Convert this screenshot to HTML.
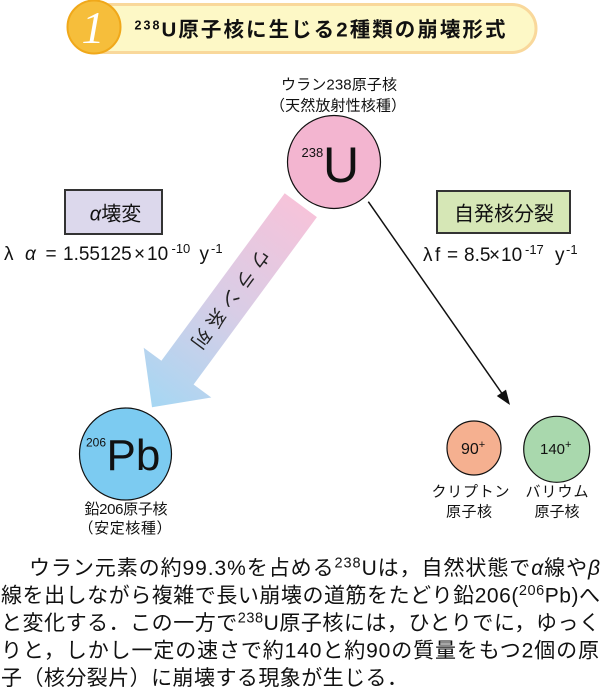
<!DOCTYPE html>
<html lang="ja">
<head>
<meta charset="utf-8">
<style>
  html, body { margin: 0; padding: 0; background: #fff; }
  svg { display: block; }
  text { font-family: "Liberation Sans", "Noto Sans CJK JP", sans-serif; fill: #111; }
</style>
</head>
<body>
<svg width="601" height="691" viewBox="0 0 601 691" xmlns="http://www.w3.org/2000/svg">
  <defs>
    <linearGradient id="ag" gradientUnits="userSpaceOnUse" x1="300.8" y1="205.2" x2="152" y2="407.2">
      <stop offset="0" stop-color="#f6c3da"/>
      <stop offset="0.5" stop-color="#d8cde6"/>
      <stop offset="1" stop-color="#a6d7f3"/>
    </linearGradient>
  </defs>

  <!-- Header -->
  <rect x="80" y="4.5" width="456" height="48" rx="24" fill="#fdf8c6" stroke="#f9d89b" stroke-width="3"/>
  <circle cx="94" cy="27" r="26.5" fill="#f6be3b" stroke="#f0a81a" stroke-width="2"/>
  <text x="93" y="43" font-style="italic" font-size="46" style="fill:#fff;font-family:'Liberation Serif',serif" text-anchor="middle">1</text>
  <text x="134.5" y="36.5" font-weight="bold" font-size="20.5" textLength="371" lengthAdjust="spacing"><tspan font-size="12.5" dy="-7">238</tspan><tspan dy="7">U原子核に生じる2種類の崩壊形式</tspan></text>

  <!-- U labels -->
  <text x="281" y="89.7" font-size="15" textLength="116" lengthAdjust="spacing">ウラン238原子核</text>
  <text x="270" y="110.7" font-size="15" textLength="136" lengthAdjust="spacing">（天然放射性核種）</text>

  <!-- alpha decay box -->
  <rect x="65" y="190" width="97" height="44" fill="#dcd8ec" stroke="#333" stroke-width="2"/>
  <text x="115.5" y="220.5" font-size="20" text-anchor="middle"><tspan font-style="italic">α</tspan>壊変</text>

  <!-- fission box -->
  <rect x="437" y="191" width="133" height="42" fill="#d6e7b6" stroke="#333" stroke-width="2"/>
  <text x="504" y="220.5" font-size="20" text-anchor="middle">自発核分裂</text>

  <!-- left formula -->
  <text y="260" font-size="19">
    <tspan x="4">λ</tspan>
    <tspan x="25" font-style="italic">α</tspan>
    <tspan x="45.5">=</tspan>
    <tspan x="63">1.55125</tspan>
    <tspan x="134">×</tspan>
    <tspan x="147">10</tspan>
    <tspan x="171.5" y="253" font-size="13">-10</tspan>
    <tspan x="199.5" y="260">y</tspan>
    <tspan x="211" y="253" font-size="13">-1</tspan>
  </text>

  <!-- right formula -->
  <text y="261" font-size="19">
    <tspan x="423">λ</tspan>
    <tspan x="435">f</tspan>
    <tspan x="447">=</tspan>
    <tspan x="464">8.5</tspan>
    <tspan x="489">×</tspan>
    <tspan x="501">10</tspan>
    <tspan x="525" y="254" font-size="13">-17</tspan>
    <tspan x="555" y="261">y</tspan>
    <tspan x="566" y="254" font-size="13">-1</tspan>
  </text>

  <!-- gradient arrow -->
  <polygon points="284.7,193.3 161.4,360.7 143.7,347.7 152,407.2 211.3,397.5 193.6,384.5 316.9,217.1" fill="url(#ag)"/>
  <g transform="translate(231,299) rotate(126.4)">
    <text x="0" y="7.2" font-size="19" text-anchor="middle" textLength="118" lengthAdjust="spacing" style="fill:#222">ウラン系列</text>
  </g>

  <!-- U circle -->
  <circle cx="334" cy="162" r="46.5" fill="#f3b5d0" stroke="#111" stroke-width="1.2"/>
  <text x="301.5" y="157" font-size="13">238</text>
  <text x="323" y="182" font-size="50">U</text>

  <!-- fission arrow -->
  <line x1="368.3" y1="201.7" x2="502" y2="393.5" stroke="#111" stroke-width="1.5"/>
  <polygon points="510,405 496.8,396 506,389.6" fill="#111"/>

  <!-- Pb circle -->
  <circle cx="125.5" cy="454" r="46" fill="#7ccbf1" stroke="#111" stroke-width="1.2"/>
  <text x="86" y="446.5" font-size="12">206</text>
  <text x="106.5" y="470" font-size="44">Pb</text>
  <text x="84.5" y="514" font-size="15" textLength="83" lengthAdjust="spacing">鉛206原子核</text>
  <text x="78.5" y="533.2" font-size="15" textLength="93" lengthAdjust="spacing">（安定核種）</text>

  <!-- Kr circle -->
  <circle cx="474" cy="448" r="27" fill="#f5b090" stroke="#111" stroke-width="1.2"/>
  <text x="461" y="454" font-size="16">90<tspan font-size="11" dy="-6">+</tspan></text>

  <!-- Ba circle -->
  <circle cx="556.7" cy="449.3" r="33" fill="#a9d8ad" stroke="#111" stroke-width="1.2"/>
  <text x="540" y="454" font-size="15">140<tspan font-size="11" dy="-6">+</tspan></text>

  <text x="431.5" y="496.7" font-size="15" textLength="78" lengthAdjust="spacing">クリプトン</text>
  <text x="446" y="516.7" font-size="15" textLength="46" lengthAdjust="spacing">原子核</text>
  <text x="525.5" y="496.7" font-size="15" textLength="63" lengthAdjust="spacing">バリウム</text>
  <text x="534.5" y="516.7" font-size="15" textLength="45" lengthAdjust="spacing">原子核</text>

  <!-- paragraph -->
  <g font-size="21">
    <text x="29" y="575" textLength="571" lengthAdjust="spacing">ウラン元素の約99.3%を占める<tspan font-size="14.5" dy="-7.5">238</tspan><tspan dy="7.5">Uは，自然状態で</tspan><tspan font-style="italic">α</tspan>線や<tspan font-style="italic">β</tspan></text>
    <text x="1" y="602.5" textLength="599" lengthAdjust="spacing">線を出しながら複雑で長い崩壊の道筋をたどり鉛206(<tspan font-size="14.5" dy="-7.5">206</tspan><tspan dy="7.5">Pb)へ</tspan></text>
    <text x="1" y="630" textLength="599" lengthAdjust="spacing">と変化する．この一方で<tspan font-size="14.5" dy="-7.5">238</tspan><tspan dy="7.5">U原子核には，ひとりでに，ゆっく</tspan></text>
    <text x="1" y="657.5" textLength="598" lengthAdjust="spacing">りと，しかし一定の速さで約140と約90の質量をもつ2個の原</text>
    <text x="1" y="685" textLength="407" lengthAdjust="spacing">子（核分裂片）に崩壊する現象が生じる．</text>
  </g>
</svg>
</body>
</html>
